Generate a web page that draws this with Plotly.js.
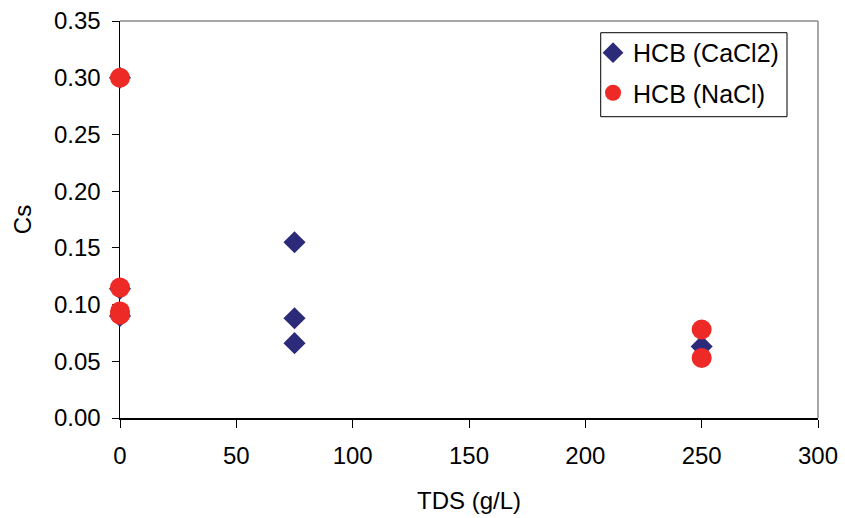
<!DOCTYPE html>
<html>
<head>
<meta charset="utf-8">
<script src="https://cdn.plot.ly/plotly-3.0.1.min.js"></script>
<style>html,body{margin:0;padding:0;background:#fff;}#chart{width:845px;height:518px;}</style>
</head>
<body>
<div id="chart"></div>
<script>
// Data
const seriesNames = ["HCB (CaCl2)", "HCB (NaCl)"];
const tdsCaCl2 = [0, 0, 0, 75, 75, 75, 250];
const csCaCl2  = [0.300, 0.114, 0.090, 0.155, 0.088, 0.066, 0.063];
const tdsNaCl  = [0, 0, 0, 0, 250, 250];
const csNaCl   = [0.300, 0.115, 0.094, 0.091, 0.078, 0.053];
const xTicks = [0, 50, 100, 150, 200, 250, 300];
const yTicks = [0, 0.05, 0.10, 0.15, 0.20, 0.25, 0.30, 0.35];

const FONT = "Liberation Sans, Arial, sans-serif";
const navy = "#2B2B7A";
const red = "#EE2A26";

const traces = [
  {x: tdsCaCl2, y: csCaCl2, name: seriesNames[0], type: "scatter", mode: "markers",
   cliponaxis: false, legend: "legend",
   marker: {symbol: "diamond", size: 17, color: navy, line: {width: 0}}},
  {x: tdsNaCl, y: csNaCl, name: seriesNames[1], type: "scatter", mode: "markers",
   cliponaxis: false, legend: "legend2",
   marker: {symbol: "circle", size: 20, color: red, line: {width: 0}}}
];

const legendCommon = {
  xanchor: "left", yanchor: "middle", bgcolor: "rgba(0,0,0,0)", borderwidth: 0,
  font: {family: FONT, size: 25, color: "#000"}, itemwidth: 30
};

const layout = {
  width: 845, height: 518,
  margin: {l: 120, r: 27, t: 21, b: 100, pad: 0},
  paper_bgcolor: "#fff", plot_bgcolor: "#fff",
  font: {family: FONT, size: 24, color: "#000"},
  showlegend: true,
  legend: Object.assign({x: 0.6777, y: 0.9197}, legendCommon),
  legend2: Object.assign({x: 0.6777, y: 0.8186}, legendCommon),
  xaxis: {
    range: [0, 300], tickvals: xTicks, ticktext: xTicks.map(String),
    showgrid: false, zeroline: false, showline: true, linecolor: "#000", linewidth: 1.5,
    ticks: "outside", ticklen: 8, tickcolor: "#000", tickwidth: 1,
    ticklabelstandoff: 8,
    tickfont: {family: FONT, size: 24, color: "#000"},
    layer: "below traces",
    title: {text: "TDS (g/L)", font: {family: FONT, size: 24, color: "#000"}, standoff: 24}
  },
  yaxis: {
    range: [0, 0.35], tickvals: yTicks, tickformat: ".2f",
    showgrid: false, zeroline: false, showline: true, linecolor: "#000", linewidth: 1.5,
    ticks: "outside", ticklen: 7, tickcolor: "#000", tickwidth: 1,
    ticklabelstandoff: 6,
    tickfont: {family: FONT, size: 24, color: "#000"},
    layer: "below traces",
    title: {text: "Cs", font: {family: FONT, size: 24, color: "#000"}, standoff: 15}
  },
  shapes: [
    {type: "line", xref: "paper", yref: "paper", x0: 0, x1: 1, y0: 1, y1: 1,
     line: {color: "#8a8a8a", width: 1.5}, layer: "below"},
    {type: "line", xref: "paper", yref: "paper", x0: 1, x1: 1, y0: 0, y1: 1,
     line: {color: "#8a8a8a", width: 1.5}, layer: "below"},
    {type: "rect", xref: "paper", yref: "paper", x0: 0.6887, x1: 0.9556, y0: 0.7589, y1: 0.9705,
     line: {color: "#000", width: 1}, fillcolor: "rgba(0,0,0,0)", layer: "below"}
  ]
};

Plotly.newPlot("chart", traces, layout, {staticPlot: true, displayModeBar: false});
</script>
</body>
</html>
